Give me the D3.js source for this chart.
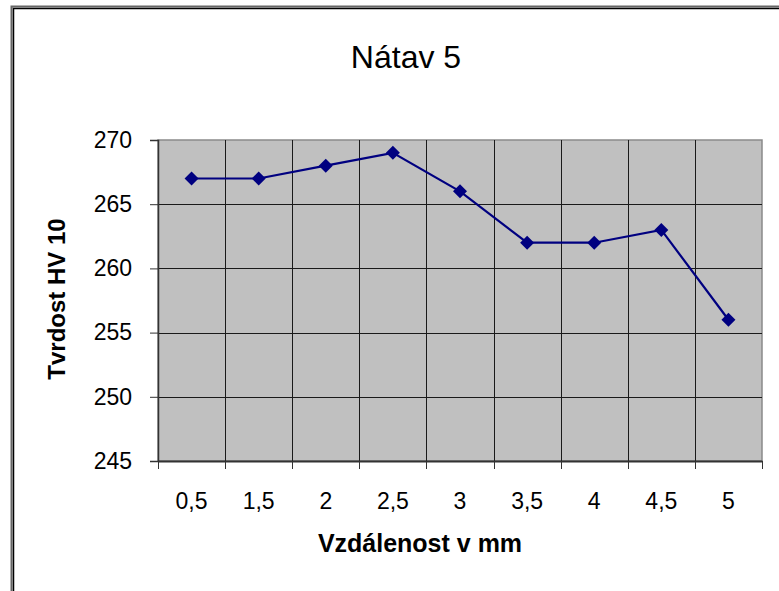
<!DOCTYPE html>
<html>
<head>
<meta charset="utf-8">
<script src="https://cdn.jsdelivr.net/npm/d3@7"></script>
<style>
  html, body { margin: 0; padding: 0; background: #fff; }
  svg { display: block; font-family: "Liberation Sans", Arial, sans-serif; }
</style>
</head>
<body>
<svg id="chart" width="779" height="591"></svg>
<script>
// Hardness profile of weld bead 5
const categories = ["0,5", "1,5", "2", "2,5", "3", "3,5", "4", "4,5", "5"];
const hardness = [267, 267, 268, 269, 266, 262, 262, 263, 256];
const yTicks = [245, 250, 255, 260, 265, 270];

const svg = d3.select("#chart");
const plot = { left: 158, right: 762, top: 140, bottom: 461 };
const FONT = "'Liberation Sans', Arial, sans-serif";

// Frame (left and top edges)
svg.append("path").attr("d", "M11.5,591 V6.5 H779").attr("fill", "none")
  .attr("stroke", "#666").attr("stroke-width", 2);
svg.append("path").attr("d", "M13.5,591 V8.5 H779").attr("fill", "none")
  .attr("stroke", "#000").attr("stroke-width", 1.5);

const x = d3.scaleBand().domain(categories).range([plot.left, plot.right]).padding(0);
const y = d3.scaleLinear().domain([245, 270]).range([plot.bottom, plot.top]);

// Plot background
svg.append("rect")
  .attr("x", plot.left).attr("y", plot.top)
  .attr("width", plot.right - plot.left).attr("height", plot.bottom - plot.top)
  .attr("fill", "#c0c0c0").attr("stroke", "#8a8a8a").attr("stroke-width", 1.5);

// Horizontal gridlines
svg.append("g").selectAll("line").data(yTicks.slice(1, -1)).join("line")
  .attr("x1", plot.left).attr("x2", plot.right)
  .attr("y1", d => Math.round(y(d)) + 0.5).attr("y2", d => Math.round(y(d)) + 0.5)
  .attr("stroke", "#1a1a1a").attr("stroke-width", 1);

// Vertical gridlines at category boundaries
svg.append("g").selectAll("line").data(categories.slice(1)).join("line")
  .attr("x1", d => Math.round(x(d)) + 0.5).attr("x2", d => Math.round(x(d)) + 0.5)
  .attr("y1", plot.top).attr("y2", plot.bottom)
  .attr("stroke", "#1a1a1a").attr("stroke-width", 1);

// Y axis
const yAxis = svg.append("g").attr("transform", `translate(${plot.left},0)`)
  .call(d3.axisLeft(y).tickValues(yTicks).tickSize(8).tickPadding(18).tickFormat(d3.format("d")));
yAxis.select(".domain").attr("stroke", "#333").attr("stroke-width", 1.5);
yAxis.selectAll(".tick line").attr("stroke", "#333");
yAxis.selectAll("text").attr("font-size", 23).attr("fill", "#000").attr("font-family", FONT);

// X axis with ticks at category boundaries
const xAxis = svg.append("g").attr("transform", `translate(0,${plot.bottom})`)
  .call(d3.axisBottom(x).tickSize(0).tickPadding(32));
xAxis.select(".domain").attr("stroke", "#333").attr("stroke-width", 2);
xAxis.selectAll("text").attr("font-size", 23).attr("fill", "#000").attr("font-family", FONT);
const bounds = categories.map(c => x(c)).concat([x(categories[categories.length - 1]) + x.bandwidth()]);
svg.append("g").selectAll("line").data(bounds).join("line")
  .attr("x1", d => Math.round(d) + 0.5).attr("x2", d => Math.round(d) + 0.5)
  .attr("y1", plot.bottom).attr("y2", plot.bottom + 8)
  .attr("stroke", "#333").attr("stroke-width", 1);

// Series line
const line = d3.line()
  .x((d, i) => x(categories[i]) + x.bandwidth() / 2)
  .y(d => y(d));
svg.append("path").datum(hardness)
  .attr("d", line).attr("fill", "none")
  .attr("stroke", "#000080").attr("stroke-width", 2.2);

// Diamond markers
svg.append("g").selectAll("path").data(hardness).join("path")
  .attr("transform", (d, i) => `translate(${x(categories[i]) + x.bandwidth() / 2},${y(d)})`)
  .attr("d", "M0,-7 L7,0 L0,7 L-7,0 Z")
  .attr("fill", "#000080");

// Titles
svg.append("text").attr("x", 406).attr("y", 68)
  .attr("text-anchor", "middle").attr("font-size", 32).attr("fill", "#000")
  .text("Nátav 5");
svg.append("text").attr("x", 420).attr("y", 552)
  .attr("text-anchor", "middle").attr("font-size", 25).attr("font-weight", "bold").attr("fill", "#000")
  .text("Vzdálenost v mm");
svg.append("text")
  .attr("transform", `translate(65,299) rotate(-90)`)
  .attr("text-anchor", "middle").attr("font-size", 24).attr("font-weight", "bold").attr("fill", "#000")
  .text("Tvrdost HV 10");
</script>
</body>
</html>
